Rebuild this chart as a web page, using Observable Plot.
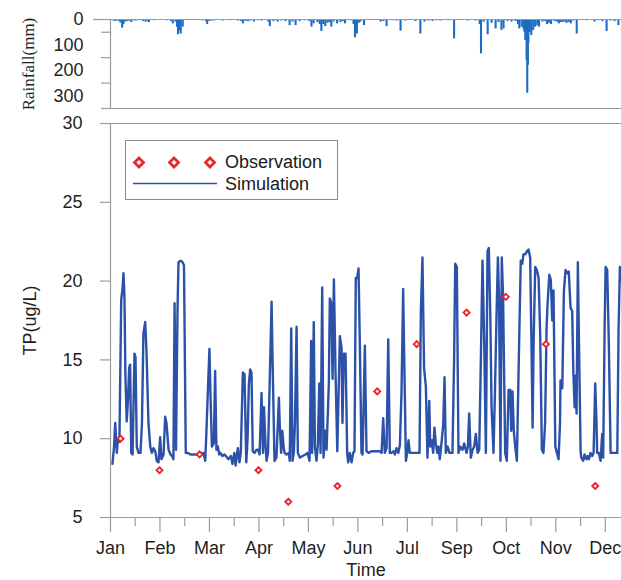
<!DOCTYPE html>
<html>
<head>
<meta charset="utf-8">
<script src="https://cdn.jsdelivr.net/npm/d3@7"></script>
<script src="https://cdn.jsdelivr.net/npm/@observablehq/plot@0.6"></script>
<style>
  html, body { margin: 0; padding: 0; background: #fff; }
  #wrap { position: relative; width: 621px; height: 580px; overflow: hidden; font-family: "Liberation Sans", Arial, sans-serif; }
  #wrap svg { display: block; }
  #legend { position: absolute; left: 125px; top: 140px; width: 211px; height: 58px; border: 1px solid #8a8a8a; background: #fff; }
  #legend svg { position: absolute; left: 0; top: 0; }
  .lt { position: absolute; left: 99px; font-size: 18px; color: #1a1a1a; line-height: 20px; }
</style>
</head>
<body>
<div id="wrap">
  <div id="top"></div>
  <div id="bottom"></div>
  <div id="legend">
    <svg width="211" height="58">
      <polygon points="13,17 17.5,21.5 13,26 8.5,21.5" fill="#fff" stroke="#e8262b" stroke-width="2.8"/>
      <polygon points="48,17 52.5,21.5 48,26 43.5,21.5" fill="#fff" stroke="#e8262b" stroke-width="2.8"/>
      <polygon points="84,17 88.5,21.5 84,26 79.5,21.5" fill="#fff" stroke="#e8262b" stroke-width="2.8"/>
      <line x1="7" x2="91" y1="42.5" y2="42.5" stroke="#2b52a8" stroke-width="1.6"/>
    </svg>
    <div class="lt" style="top:11px">Observation</div>
    <div class="lt" style="top:33px">Simulation</div>
  </div>
</div>
<script>
// ---- data ----
const monthLabels = ["Jan","Feb","Mar","Apr","May","Jun","Jul","Sep","Oct","Nov","Dec"];
const monthTicks = [0,30.5,61,91.5,122,152.5,183,213.5,244,274.5,305];
const minorTicks = [15.25,45.75,76.25,106.75,137.25,167.75,198.25,228.75,259.25,289.75];
const tpTicks = [5,10,15,20,25,30];
const rainTicks = [0,100,200,300];
const rainMinorTicks = [50,150,250];

// observations: [day, TP ug/L]
const obsDay = [6.2,30.2,54.9,91.2,109.6,139.9,164.4,188.8,219.5,243.7,268.4,298.8];
const obsTP  = [10,8,9,8,6,7,13,16,18,19,16,7];

// simulation: [day, TP ug/L]
const simulation = [[1.2,8.4],[2.2,9.5],[2.9,11.0],[3.9,9.1],[4.6,10.0],[5.5,9.8],[6.6,18.8],[7.4,19.5],[8.0,20.5],[8.6,19.0],[9.2,14.0],[10.0,11.1],[10.8,12.5],[11.5,14.5],[12.1,14.7],[12.8,9.1],[13.6,9.0],[14.8,15.4],[15.4,15.2],[16.2,9.5],[17.3,9.1],[18.5,9.1],[19.4,11.0],[20.3,16.7],[21.4,17.4],[22.2,15.5],[23.4,11.0],[24.5,9.5],[25.5,9.1],[26.5,9.4],[27.6,9.2],[28.5,8.6],[29.6,8.5],[30.6,10.1],[31.4,8.7],[32.7,9.0],[33.7,11.4],[34.5,11.0],[35.8,9.3],[37.0,9.0],[38.0,8.9],[38.8,8.7],[39.5,18.6],[40.4,9.3],[41.3,18.0],[41.9,21.2],[43.2,21.3],[44.4,21.2],[45.3,21.0],[46.4,9.1],[47.5,9.1],[49.3,9.0],[52.4,9.0],[55.5,9.0],[57.3,9.1],[58.4,8.6],[59.0,10.1],[60.0,13.0],[61.0,15.7],[61.7,12.5],[62.5,9.5],[63.7,9.7],[64.5,14.3],[65.3,9.3],[66.2,9.5],[67.0,9.0],[67.8,9.1],[69.0,8.9],[70.3,9.0],[71.9,8.8],[72.7,8.7],[74.2,8.9],[75.2,8.4],[76.3,9.1],[77.1,8.3],[78.5,9.4],[79.5,8.5],[80.3,9.1],[81.6,14.2],[82.6,14.1],[83.7,8.5],[84.5,10.0],[85.3,13.5],[86.1,14.4],[86.9,14.2],[87.7,9.2],[88.8,9.1],[90.0,9.3],[90.9,9.3],[91.9,9.0],[93.1,12.9],[94.0,9.1],[94.6,12.0],[95.6,9.5],[96.2,8.6],[97.1,9.1],[98.0,13.0],[99.3,18.7],[99.9,15.0],[101.1,8.6],[102.3,8.8],[103.8,12.6],[104.4,10.7],[105.2,9.1],[105.9,10.5],[106.7,9.5],[107.3,9.1],[108.5,9.0],[109.9,9.1],[110.5,8.6],[111.4,17.0],[112.2,8.6],[113.0,9.1],[113.7,11.0],[114.7,17.1],[115.5,9.1],[116.7,8.8],[118.4,8.9],[120.2,9.0],[121.5,9.1],[122.7,8.6],[123.7,16.2],[124.3,9.1],[125.3,17.4],[126.0,9.5],[127.0,8.6],[127.8,9.6],[128.7,13.5],[129.5,9.1],[130.5,19.6],[131.3,8.8],[132.5,10.5],[133.2,9.3],[134.6,13.5],[135.2,18.9],[136.1,18.6],[136.9,13.8],[137.7,20.1],[138.7,14.3],[139.8,9.2],[141.4,16.5],[142.4,15.8],[143.0,11.0],[143.8,15.4],[144.9,15.4],[145.9,9.1],[146.5,8.5],[147.5,9.1],[148.6,8.5],[149.6,9.1],[150.4,9.2],[151.2,20.2],[152.1,20.2],[152.9,20.8],[153.7,16.0],[154.7,9.1],[155.4,9.0],[156.8,15.9],[157.8,9.2],[159.1,9.1],[160.9,9.2],[163.4,9.2],[165.8,9.2],[167.1,9.1],[168.1,11.3],[169.1,9.1],[170.2,9.4],[171.2,16.3],[172.2,9.1],[173.2,9.1],[174.5,9.2],[175.3,9.0],[176.3,9.4],[177.4,9.1],[178.4,9.6],[179.4,13.0],[180.4,19.5],[181.4,13.0],[182.1,8.6],[182.9,9.1],[183.7,9.9],[184.5,9.1],[186.2,9.1],[188.0,9.1],[190.5,9.1],[191.3,18.0],[192.3,21.5],[193.3,14.5],[194.4,13.3],[195.4,8.8],[196.5,12.4],[197.1,9.5],[198.1,9.9],[198.9,9.1],[199.7,10.7],[200.5,9.7],[201.4,9.1],[202.2,9.5],[203.0,8.7],[204.2,9.9],[205.1,10.9],[205.9,13.9],[206.7,9.1],[207.8,9.5],[209.0,9.1],[210.8,9.1],[211.8,15.0],[212.5,21.1],[213.5,20.9],[214.5,9.1],[215.6,9.5],[217.0,9.3],[218.0,9.7],[219.5,9.1],[220.3,9.5],[221.1,11.6],[222.1,8.8],[223.2,9.3],[224.2,9.5],[225.2,10.3],[226.3,9.1],[227.3,9.3],[228.3,15.0],[229.3,21.3],[230.4,16.0],[231.4,9.1],[232.4,21.9],[233.2,22.1],[234.1,18.0],[234.9,12.0],[236.1,9.1],[237.0,13.0],[238.0,18.0],[238.8,21.5],[239.5,19.0],[240.4,8.6],[241.2,21.5],[242.0,19.0],[243.3,9.1],[244.3,8.6],[245.4,13.1],[246.4,13.1],[247.0,10.5],[247.8,13.0],[248.6,10.5],[249.5,9.5],[250.5,8.6],[251.5,14.0],[252.9,21.3],[253.8,21.1],[254.6,21.7],[255.7,21.7],[256.7,21.9],[257.7,22.0],[258.7,21.5],[259.5,16.0],[260.2,10.7],[260.8,16.0],[261.8,20.9],[262.8,20.7],[263.9,20.2],[264.9,16.5],[265.9,9.3],[266.9,9.1],[267.9,11.0],[268.8,17.0],[269.4,18.5],[270.5,20.4],[271.4,20.1],[272.3,17.5],[273.1,19.4],[274.2,9.5],[275.2,9.1],[276.2,8.7],[277.1,11.0],[277.4,13.7],[278.5,13.2],[279.5,19.4],[280.5,20.7],[281.6,20.5],[282.5,20.6],[283.6,18.3],[284.6,18.1],[285.3,14.3],[286.1,12.0],[286.7,14.0],[287.3,11.6],[288.1,21.2],[288.8,16.0],[289.8,9.2],[290.2,8.8],[291.4,8.6],[292.2,9.0],[293.3,8.7],[294.1,8.9],[294.9,8.7],[295.9,9.1],[297.0,8.9],[297.8,9.1],[298.8,13.5],[299.6,11.0],[300.0,9.1],[301.0,9.1],[302.1,8.6],[303.1,10.3],[303.7,8.8],[304.6,17.0],[305.2,20.9],[306.2,20.7],[307.2,16.0],[308.3,9.1],[309.5,9.1],[310.7,9.1],[312.4,9.1],[313.2,17.0],[314.0,20.9],[315.0,20.0]];

// rainfall: [day, mm]
const rainfall = [[1.8,6],[3.0,8],[4.0,5],[5.4,9],[6.3,14],[7.2,34],[8.0,20],[9.1,10],[10.5,8],[11.7,6],[12.8,12],[14.0,5],[15.2,6],[16.6,5],[18.5,4],[20.1,8],[21.6,10],[22.6,7],[23.7,12],[25.0,4],[27.1,5],[29.6,3],[32.1,4],[34.7,5],[37.3,8],[38.4,17],[40.1,10],[41.0,30],[41.6,60],[42.4,45],[43.3,57],[44.5,30],[51.8,4],[54.3,3],[56.7,5],[58.8,8],[59.6,20],[61.0,8],[62.5,6],[64.1,5],[66.6,4],[69.0,6],[71.5,4],[74.0,5],[76.4,3],[78.7,6],[80.5,8],[81.6,17],[83.2,8],[84.8,8],[86.3,6],[88.5,10],[90.9,5],[93.1,6],[95.7,4],[97.3,10],[98.2,28],[100.5,8],[103.0,10],[105.4,6],[107.9,8],[110.4,24],[112.2,10],[114.1,24],[116.5,8],[119.6,5],[122.5,8],[123.9,30],[125.2,17],[127.6,12],[129.0,20],[130.0,47],[131.2,20],[132.4,28],[133.8,15],[135.0,12],[136.1,30],[137.5,10],[139.7,17],[141.8,12],[143.2,8],[144.6,17],[148.0,5],[149.8,20],[150.7,72],[151.9,57],[153.0,15],[154.1,10],[156.3,24],[159.1,4],[166.5,10],[168.3,8],[170.2,28],[173.9,5],[176.3,6],[178.8,46],[181.9,6],[185.0,4],[188.0,8],[191.0,57],[193.6,10],[196.0,6],[198.5,8],[201.0,5],[203.4,6],[205.7,4],[208.4,5],[211.8,76],[214.5,4],[220.1,6],[222.6,4],[225.0,6],[227.6,20],[228.4,135],[230.0,10],[232.5,60],[234.9,15],[237.4,37],[239.2,12],[241.0,43],[242.3,37],[244.7,8],[247.2,10],[249.7,8],[251.2,20],[252.0,37],[253.4,30],[254.5,37],[255.1,50],[255.7,83],[256.5,160],[256.9,290],[257.3,180],[257.6,96],[258.5,50],[259.4,63],[260.6,43],[261.8,30],[263.1,25],[264.2,30],[266.3,10],[268.0,8],[269.1,20],[270.4,15],[271.6,20],[273.7,8],[275.2,10],[276.4,17],[277.5,12],[278.7,12],[280.0,10],[281.1,15],[282.5,12],[283.8,17],[285.4,6],[287.4,57],[289.8,4],[293.5,5],[295.9,4],[298.4,10],[300.8,5],[303.3,8],[305.8,47],[308.2,6],[310.7,8],[313.1,24]];

// ---- build tables ----
const obs = obsDay.map((d, i) => ({day: d, tp: obsTP[i]}));
const sim = simulation.map(([day, tp]) => ({day, tp}));
const rain = rainfall.map(([day, mm]) => ({day, mm}));

const axisGray = "#9c9c9c";
const textCol = "#1f1f1f";
const baseStyle = {fontFamily: "'Liberation Sans', Arial, sans-serif", fontSize: "18px", color: textCol, background: "transparent", overflow: "visible"};

const topChart = Plot.plot({
  width: 621, height: 112, marginTop: 19, marginBottom: 4, marginLeft: 110, marginRight: 0,
  style: baseStyle,
  x: {domain: [0, 315], axis: null},
  y: {domain: [0, 350], reverse: true, axis: null},
  marks: [
    Plot.ruleX(rain, {x: "day", y1: 0, y2: "mm", stroke: "#1f6cc4", strokeWidth: 2.1}),
    Plot.ruleY([0], {stroke: axisGray, strokeWidth: 1.2}),
    Plot.ruleY([350], {stroke: axisGray, strokeWidth: 1.2}),
    Plot.ruleX([0], {stroke: axisGray, strokeWidth: 1.2}),
    Plot.axisY({ticks: [0], tickSize: 17, tickFormat: () => "", stroke: axisGray, strokeWidth: 1.2, label: null}),
    Plot.axisY({ticks: [350], tickSize: 9, tickFormat: () => "", stroke: axisGray, strokeWidth: 1.2, label: null}),
    Plot.axisY({ticks: rainMinorTicks, tickSize: 9, tickFormat: () => "", stroke: axisGray, strokeWidth: 1.2, label: null}),
    Plot.axisY({ticks: rainTicks, tickSize: 0, tickPadding: 27, fill: textCol, label: null}),
    Plot.text(["Rainfall(mm)"], {frameAnchor: "left", textAnchor: "middle", dx: -82, rotate: -90, fontSize: 17, fontFamily: "'Liberation Serif', 'Times New Roman', serif", fill: textCol})
  ]
});

const bottomChart = Plot.plot({
  width: 621, height: 468, marginTop: 11, marginBottom: 63, marginLeft: 110, marginRight: 0,
  style: baseStyle,
  x: {domain: [0, 315], axis: null},
  y: {domain: [5, 30], axis: null},
  marks: [
    Plot.ruleY([30], {stroke: axisGray, strokeWidth: 1.2}),
    Plot.ruleY([5], {stroke: axisGray, strokeWidth: 1.2}),
    Plot.ruleX([0], {stroke: axisGray, strokeWidth: 1.2}),
    Plot.axisY({ticks: tpTicks, tickSize: 10, tickPadding: 18, stroke: axisGray, strokeWidth: 1.2, fill: textCol, label: null}),
    Plot.axisX({ticks: minorTicks, tickSize: 9, tickFormat: () => "", stroke: axisGray, strokeWidth: 1.2, label: null}),
    Plot.axisX({ticks: monthTicks, tickSize: 15, tickPadding: 9, tickFormat: d => monthLabels[monthTicks.indexOf(d)], stroke: axisGray, strokeWidth: 1.2, fill: textCol, label: null}),
    Plot.line(sim, {x: "day", y: "tp", stroke: "#2b52a8", strokeWidth: 2.4, strokeLinejoin: "round"}),
    Plot.dot(obs, {x: "day", y: "tp", symbol: "diamond2", r: 2.7, stroke: "#e8262b", strokeWidth: 1.9, fill: "#fff"}),
    Plot.text(["Time"], {frameAnchor: "bottom", dy: 58, fontSize: 18, fill: textCol}),
    Plot.text(["TP(ug/L)"], {frameAnchor: "left", textAnchor: "middle", dx: -80, rotate: -90, fontSize: 18, fill: textCol})
  ]
});

document.getElementById("top").appendChild(topChart);
document.getElementById("bottom").appendChild(bottomChart);
</script>
</body>
</html>
